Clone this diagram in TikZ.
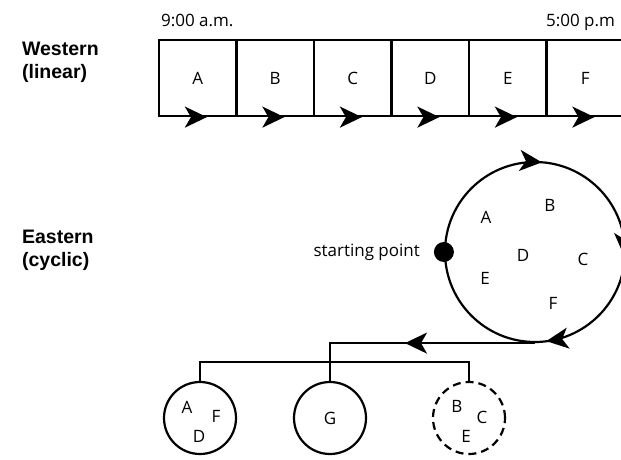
\documentclass[tikz,border=0pt]{standalone}
\usepackage{fontspec}
\setmainfont{Open Sans}
\newfontfamily\headfont{Liberation Sans}
\usetikzlibrary{arrows.meta, decorations.markings, positioning}

\tikzset{
  cell/.style = {draw, minimum width=77.5pt, minimum height=76pt, inner sep=0pt},
  group/.style = {draw, circle, minimum size=72pt, inner sep=0pt},
  head/.style = {align=left, anchor=base west, inner sep=0pt,
    font=\headfont\bfseries\fontsize{19.5}{23}\selectfont},
  mark at/.style = {decoration={markings, mark=at position #1 with {\arrow{>}}},
    postaction={decorate}},
}

\begin{document}
\begin{tikzpicture}[x=1pt, y=1pt, line width=2.2pt, font=\fontsize{17}{20}\selectfont,
    >={Stealth[length=22pt, width=21pt, inset=6pt]}]
  \useasboundingbox (0,0) rectangle (621,459);

  \node[head] (west) at (21,381) {Western\\(linear)};
  \node[head] (east) at (21,193) {Eastern\\(cyclic)};

  % linear day
  \node[anchor=base west, inner sep=0pt] (morning) at (160,432) {9:00 a.m.};
  \node[anchor=base east, inner sep=0pt] (evening) at (616,432) {5:00 p.m};
  \foreach \l [count=\i] in {A,B,C,D,E,F}
    \node[cell] (cell\l) at (120.25+77.5*\i, 381) {\l};
  \foreach \l in {A,B,C,D,E,F}
    \path[mark at=49pt] (cell\l.south west) -- (cell\l.south east);

  % cyclic day
  \node[circle, draw, minimum size=180pt, inner sep=0pt] (cycle) at (535,207) {};
  \foreach \l/\x/\y in {A/486/242, B/550/254, C/583/200, D/523/204, E/485/181, F/553/156}
    \node (cyc\l) at (\x,\y) {\l};
  \node[circle, fill, minimum size=20pt, inner sep=0pt] (start) at (cycle.west) {};
  \node[anchor=base east, inner sep=0pt] (startlbl) at (421,203) {starting point};
  \path[decoration={markings,
      mark=at position 0.264 with {\arrow{>}},
      mark=at position 0.506 with {\arrow{>}},
      mark=at position 0.728 with {\arrow{>}}}, decorate]
    (start.center) arc[start angle=180, end angle=-180, radius=90];

  % regrouped
  \node[group] (grpADF) at (200,41) {};
  \node[group] (grpG) at (330,41) {G};
  \node[group, dash pattern=on 8pt off 5pt] (grpBCE) at (469,41) {};
  \foreach \l/\x/\y in {A/187/52, F/216/43, D/199/23}
    \node (one\l) at (\x,\y) {\l};
  \foreach \l/\x/\y in {B/457/53, C/482/42, E/466/23}
    \node (three\l) at (\x,\y) {\l};

  \draw[mark at=130pt] (cycle.south) -| (grpG.north);
  \draw (grpADF.north) -- ++(0,19) -| (grpBCE.north);
\end{tikzpicture}
\end{document}
